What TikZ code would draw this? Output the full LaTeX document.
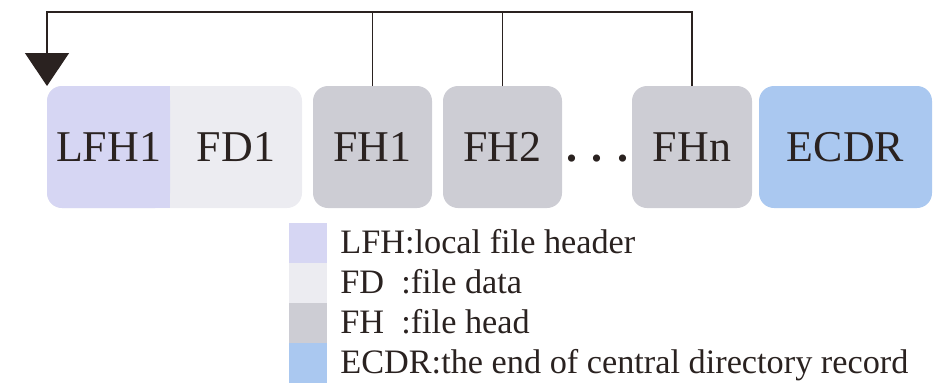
\documentclass[tikz,border=0pt]{standalone}
\usepackage{fontspec}
\setmainfont{Liberation Serif}
\usetikzlibrary{positioning,arrows.meta,backgrounds,calc}

\definecolor{lfhcol}{HTML}{D6D6F3}
\definecolor{fdcol}{HTML}{ECECF1}
\definecolor{fhcol}{HTML}{CDCDD4}
\definecolor{ecdrcol}{HTML}{AAC8F0}
\definecolor{inkcol}{HTML}{2A2220}

\begin{document}
\begin{tikzpicture}[
    block/.style={align=center,inner sep=0pt,outer sep=0pt,minimum height=2.44cm,text=inkcol,font=\fontsize{25}{29}\selectfont},
    keybox/.style={inner sep=0pt,outer sep=0pt,minimum width=0.76cm,minimum height=0.8cm},
    keytext/.style={inner sep=0pt,text height=12pt,text depth=0pt,text=inkcol,font=\fontsize{19.5}{22}\selectfont},
    link/.style={draw=inkcol,line width=0.85pt}
]
    \useasboundingbox (0,0) rectangle (18.66,-7.68);

    \draw
        node[block,minimum width=2.46cm] (lfh) at (2.17,-2.94) {LFH1}
        node[block,right=0cm of lfh,minimum width=2.64cm] (fd) {FD1}

        node[block,fill=fhcol,rounded corners=0.3cm,right=0.22cm of fd,minimum width=2.38cm] (fh1) {FH1}
        node[block,fill=fhcol,rounded corners=0.3cm,right=0.22cm of fh1,minimum width=2.38cm] (fh2) {FH2}
        node[block,fill=fhcol,rounded corners=0.3cm,right=1.4cm of fh2,minimum width=2.4cm] (fhn) {FHn}
        node[block,fill=ecdrcol,rounded corners=0.3cm,right=0.14cm of fhn,minimum width=3.46cm] (ecdr) {ECDR}

        node[block,anchor=base,minimum height=0pt] (dots) at ($(fh2.base)!0.5!(fhn.base)$) {\textbf{.\,\,.\,\,.}}

        node[keybox,fill=lfhcol] (lfhkey) at (6.16,-4.86) {}
        node[keybox,fill=fdcol,below=0cm of lfhkey] (fdkey) {}
        node[keybox,fill=fhcol,below=0cm of fdkey] (fhkey) {}
        node[keybox,fill=ecdrcol,below=0cm of fhkey] (ecdrkey) {}

        node[keytext,right=0.26cm of lfhkey] (lfhtext) {LFH:local file header}
        node[keytext,right=0.26cm of fdkey] (fdtext) {FD\ \ :file data}
        node[keytext,right=0.26cm of fhkey] (fhtext) {FH\ \ :file head}
        node[keytext,right=0.26cm of ecdrkey] (ecdrtext) {ECDR:the end of central directory record}
    ;

    % LFH1 and FD1 share one rounded box
    \begin{scope}[on background layer]
        \fill[fdcol,rounded corners=0.3cm] (lfh.south west) rectangle (fd.north east);
        \fill[lfhcol,rounded corners=0.3cm] (lfh.south west) rectangle (lfh.north east);
        \fill[lfhcol] (lfh.south) rectangle (lfh.north east);
    \end{scope}

    \coordinate (top) at (0,-0.24);
    \draw[link] (fh1.north) -- (fh1.north |- top);
    \draw[link] (fh2.north) -- (fh2.north |- top);
    \draw[link,-{Triangle[width=0.88cm,length=0.66cm]}] (fhn.north) |- (top -| lfh.north west) -- (lfh.north west);
\end{tikzpicture}
\end{document}
